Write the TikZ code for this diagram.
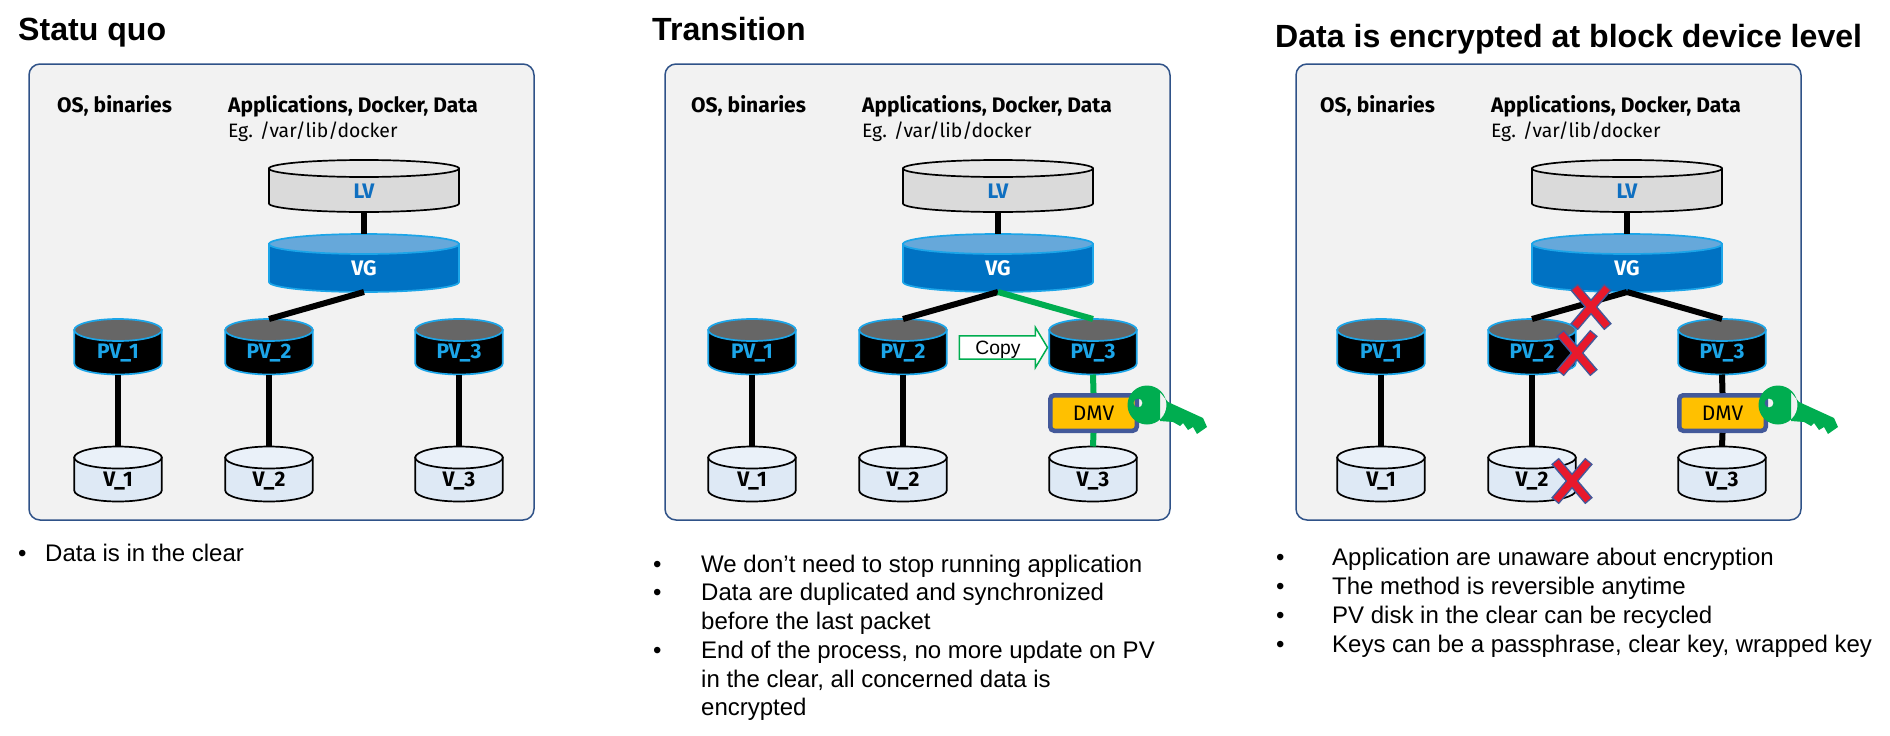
\documentclass[tikz,border=0pt]{standalone}
\usepackage{fontspec}
\setmainfont{Liberation Sans}
\newfontfamily\plex{Fira Sans}
\usetikzlibrary{shapes.arrows}
\definecolor{panelfill}{HTML}{F2F2F2}
\definecolor{panelline}{HTML}{2F5288}
\definecolor{lvbody}{HTML}{DADADA}
\definecolor{lvtop}{HTML}{E8E8E8}
\definecolor{vgbody}{HTML}{0072C3}
\definecolor{vgtop}{HTML}{66A8DA}
\definecolor{cyanline}{HTML}{1CA5E8}
\definecolor{pvtop}{HTML}{666666}
\definecolor{vbody}{HTML}{DEE9F5}
\definecolor{vtop}{HTML}{EAF1F9}
\definecolor{blabel}{HTML}{0F6FC0}
\definecolor{keygreen}{HTML}{00AD50}
\definecolor{dmvfill}{HTML}{FFC000}
\definecolor{xred}{HTML}{E8192C}
\definecolor{xblue}{HTML}{43599A}
\tikzset{
  panelbox/.style={draw=panelline,fill=panelfill,line width=1.5pt,rounded corners=11pt,minimum width=505pt,minimum height=456pt,inner sep=0pt},
  disknode/.style={inner sep=0pt,outer sep=0pt},
  disklabel/.style={anchor=base,inner sep=0pt,font=\plex\bfseries\fontsize{21}{23}\selectfont},
  link/.style={line width=6pt,black},
  glink/.style={line width=6pt,keygreen},
  dmvbox/.style={draw=xblue,fill=dmvfill,line width=4.5pt,rounded corners=4pt,minimum width=86.5pt,minimum height=35.5pt,inner sep=0pt,font=\plex\fontsize{21}{23}\selectfont},
  headtxt/.style={anchor=base west,inner sep=0pt,font=\plex\bfseries\fontsize{21}{23}\selectfont},
  subtxt/.style={anchor=base west,inner sep=0pt,font=\plex\fontsize{19.4}{22}\selectfont},
  titletxt/.style={anchor=base west,inner sep=0pt,font=\bfseries\fontsize{32.1}{35}\selectfont},
  bodytxt/.style={anchor=base west,inner sep=0pt,font=\fontsize{24}{26}\selectfont},
  xback/.style={line width=10pt,xblue},
  xfront/.style={line width=7pt,xred},
  keyshape/.style={fill=keygreen,even odd rule}
}
\newcommand{\setkind}[7]{\def\dw{#1}\def\dh{#2}\def\dry{#3}\def\dbody{#4}\def\dend{#5}\def\dline{#6}\def\dtxt{#7}}
\newcommand{\lvkind}{\setkind{190}{52}{8.5}{lvbody}{lvtop}{black}{blabel}}
\newcommand{\vgkind}{\setkind{190}{58}{10}{vgbody}{vgtop}{cyanline}{white}}
\newcommand{\pvkind}{\setkind{87.5}{55.5}{11}{black}{pvtop}{cyanline}{cyanline}}
\newcommand{\vkind}{\setkind{87.5}{55}{11}{vbody}{vtop}{black}{black}}
% kind, name, centre x, top y, label
\newcommand{\disk}[5]{%
  #1%
  \pgfmathsetmacro\drx{\dw/2}%
  \pgfmathsetmacro\dhh{\dh/2}%
  \pgfmathsetmacro\dyb{\dhh-\dry}%
  \pgfmathsetmacro\dcx{.5523*\drx}%
  \pgfmathsetmacro\dcy{\dyb+.5523*\dry}%
  \node[disknode,minimum width=\dw pt,minimum height=\dh pt] (#2) at ({#3},{#4+\dhh}) {};
  \begin{scope}[shift={(#2.center)},line width=1.7pt]
    \filldraw[fill=\dbody,draw=\dline] (-\drx,-\dyb) -- (-\drx,\dyb) .. controls (-\drx,\dcy) and (-\dcx,\dhh) .. (0,\dhh) .. controls (\dcx,\dhh) and (\drx,\dcy) .. (\drx,\dyb) -- (\drx,-\dyb) -- cycle;
    \filldraw[fill=\dend,draw=\dline] (0,-\dyb) ellipse [x radius=\drx pt,y radius=\dry pt];
    \node[disklabel,text=\dtxt] (#2t) at (0,12) {#5};
  \end{scope}
}
\newcommand{\diskstack}[3]{%
  \node[panelbox] (#1box) at ({#3+281.5},292) {};
  \node[headtxt] (#1os) at ({#2+57},112) {OS, binaries};
  \node[headtxt] (#1app) at ({#2+228},112) {Applications, Docker, Data};
  \node[subtxt] (#1eg) at ({#2+228},137) {Eg. /var/lib/docker};
  \disk{\lvkind}{#1lv}{#2+364}{160}{LV}
  \disk{\vgkind}{#1vg}{#2+364}{234}{VG}
  \disk{\pvkind}{#1pa}{#2+118}{319}{PV\_1}
  \disk{\pvkind}{#1pb}{#2+269}{319}{PV\_2}
  \disk{\pvkind}{#1pc}{#2+459}{319}{PV\_3}
  \disk{\vkind}{#1va}{#2+118}{446.5}{V\_1}
  \disk{\vkind}{#1vb}{#2+269}{446.5}{V\_2}
  \disk{\vkind}{#1vc}{#2+459}{446.5}{V\_3}
  \draw[link] (#1lv.south) -- (#1vg.north);
  \draw[link] (#1pa.south) -- (#1va.north);
  \draw[link] (#1pb.south) -- (#1vb.north);
}
\newcommand{\thekey}[1]{%
  \fill[keyshape,xshift=#1pt]
    (1147,405) circle (19.5pt)
    (1138,403) circle (4.5pt)
    (1160,392) -- (1168,402) -- (1203,418) -- (1207,427) -- (1197,434) -- (1193,427) -- (1188,430) -- (1183,423) -- (1180,426) -- (1173,422) -- (1160,421) -- cycle;
}
\begin{document}
\begin{tikzpicture}[x=1pt,y=-1pt]
\useasboundingbox (0,0) rectangle (1890,736);
\node[titletxt] (t1) at (18,40) {Statu quo};
\node[titletxt] (t2) at (652,40) {Transition};
\node[titletxt] (t3) at (1275,47) {Data is encrypted at block device level};
% panel 1
\diskstack{a}{0}{0}
\draw[link] (avg.south) -- (apb.north);
\draw[link] (apc.south) -- (avc.north);
% panel 2
\diskstack{b}{634}{636}
\draw[link] (bvg.south) -- (bpb.north);
\draw[glink] (bvg.south) -- (bpc.north);
\node[dmvbox] (bdmv) at (1093.5,413) {DMV};
\draw[glink] (bpc.south) -- (bdmv.north);
\draw[glink] (bdmv.south) -- (bvc.north);
\node[single arrow,draw=keygreen,fill=white,line width=1.5pt,inner xsep=0pt,inner ysep=9pt,minimum height=88pt,minimum width=40pt,single arrow tip angle=118,single arrow head indent=0pt] (copy) at (1000,347.5) {};
\node[inner sep=0pt,font=\fontsize{19.3}{22}\selectfont] (copytxt) at (998,350) {Copy};
\thekey{0}
% panel 3
\diskstack{c}{1263}{1267}
\draw[link] (cvg.south) -- (cpb.north);
\draw[link] (cvg.south) -- (cpc.north);
\node[dmvbox] (cdmv) at (1722.5,413) {DMV};
\draw[link] (cpc.south) -- (cdmv.north);
\draw[link] (cdmv.south) -- (cvc.north);
\thekey{631}
\coordinate (x1) at (1591,307);
\coordinate (x2) at (1577,353);
\coordinate (x3) at (1572,481);
\foreach \c in {x1,x2,x3}{
  \draw[xback] (\c)+(-17,-20) -- +(17,20);
  \draw[xback] (\c)+(-17,20) -- +(17,-20);
  \draw[xfront] (\c)+(-16,-19) -- +(16,19);
  \draw[xfront] (\c)+(-16,19) -- +(16,-19);
}
% bullets
\node[bodytxt] (a1b) at (18,561) {•};
\node[bodytxt] (a1) at (45,561) {Data is in the clear};
\node[bodytxt] (b1b) at (653,572) {•};
\node[bodytxt] (b1) at (701,572) {We don’t need to stop running application};
\node[bodytxt] (b2b) at (653,600) {•};
\node[bodytxt] (b2) at (701,600) {Data are duplicated and synchronized};
\node[bodytxt] (b2c) at (701,629) {before the last packet};
\node[bodytxt] (b3b) at (653,658) {•};
\node[bodytxt] (b3) at (701,658) {End of the process, no more update on PV};
\node[bodytxt] (b3c) at (701,687) {in the clear, all concerned data is};
\node[bodytxt] (b3d) at (701,715) {encrypted};
\node[bodytxt] (c1b) at (1276,565) {•};
\node[bodytxt] (c1) at (1332,565) {Application are unaware about encryption};
\node[bodytxt] (c2b) at (1276,594) {•};
\node[bodytxt] (c2) at (1332,594) {The method is reversible anytime};
\node[bodytxt] (c3b) at (1276,623) {•};
\node[bodytxt] (c3) at (1332,623) {PV disk in the clear can be recycled};
\node[bodytxt] (c4b) at (1276,652) {•};
\node[bodytxt] (c4) at (1332,652) {Keys can be a passphrase, clear key, wrapped key};
\end{tikzpicture}
\end{document}
